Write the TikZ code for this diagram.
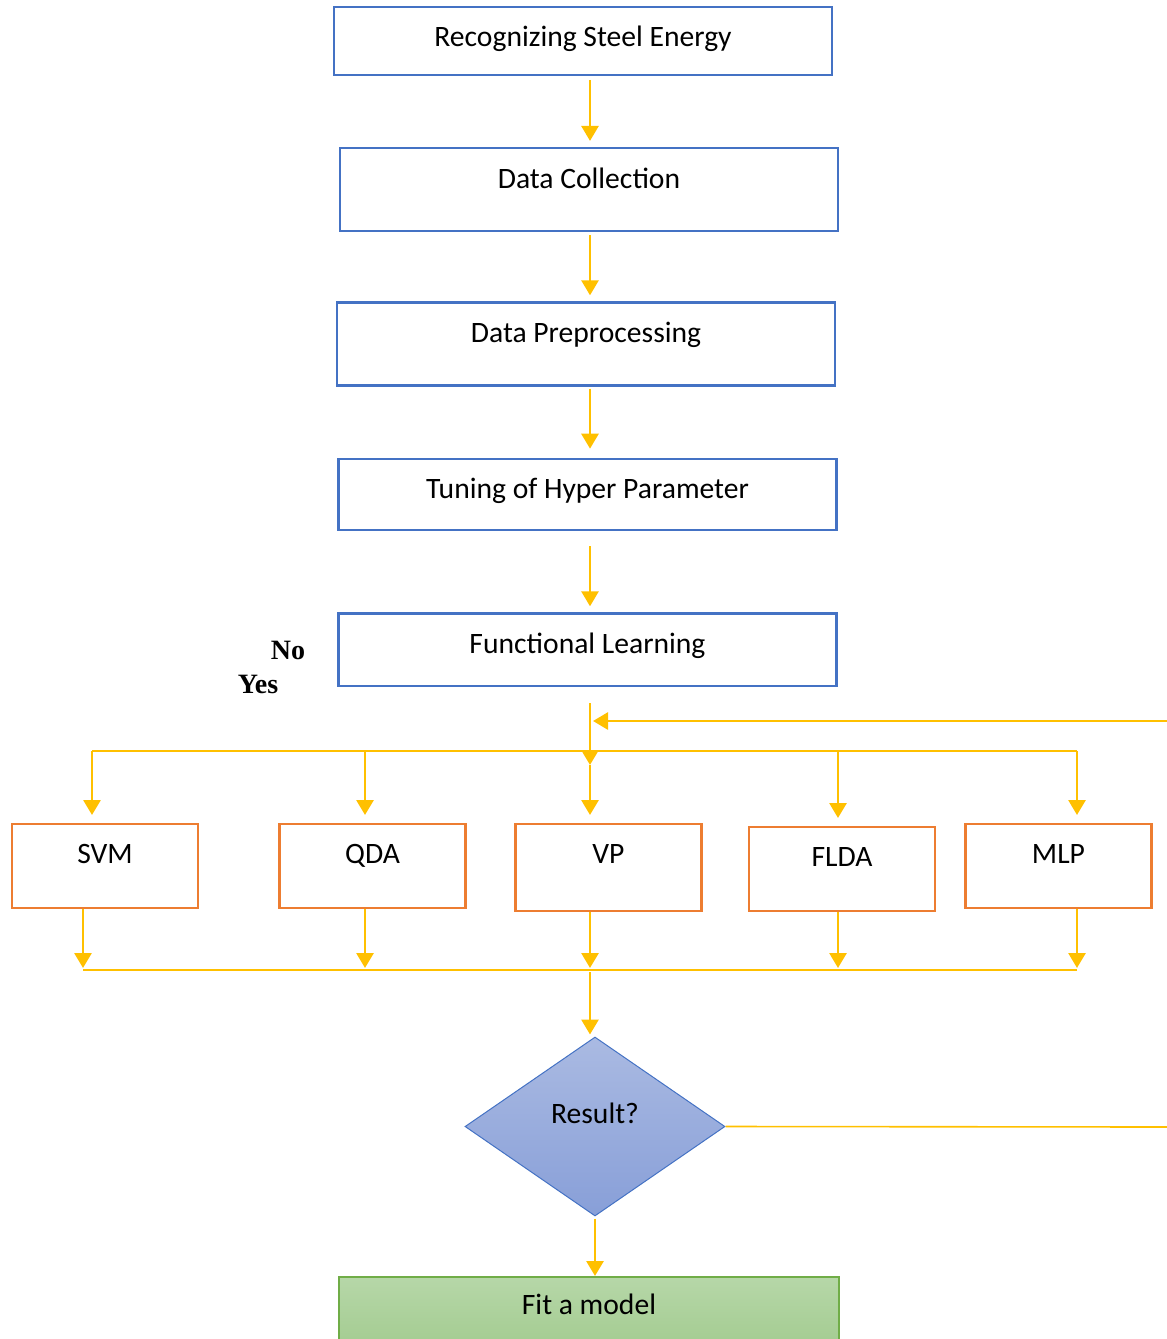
\documentclass[tikz,border=0pt]{standalone}
\usepackage{fontspec}
\setmainfont{Carlito}
\newfontfamily\answerfont{Liberation Serif}
\usetikzlibrary{arrows.meta, positioning, shapes.geometric}
\definecolor{boxblue}{HTML}{4472C4}
\definecolor{boxorange}{HTML}{ED7D31}
\definecolor{flowyellow}{HTML}{FFC000}
\definecolor{diamtop}{HTML}{AABAE2}
\definecolor{diambot}{HTML}{889FD8}
\definecolor{fittop}{HTML}{B6D7A8}
\definecolor{fitbot}{HTML}{9FC98B}
\definecolor{fitborder}{HTML}{70AD47}
\tikzset{
  boxfont/.style={font=\fontsize{14.8}{17}\selectfont},
  stepbox/.style={boxfont, draw=boxblue, line width=1.2pt, minimum width=249pt,
    inner sep=0pt, text height=20pt},
  algbox/.style={boxfont, draw=boxorange, line width=1.2pt, minimum width=93pt,
    inner sep=0pt, text height=19.7pt, text depth=22.3pt, anchor=north},
  flow/.style={->, draw=flowyellow, line width=1.4pt},
  bus/.style={draw=flowyellow, line width=0.8pt},
}

\begin{document}
\begin{tikzpicture}[x=0.5pt, y=-0.5pt, >={Triangle[width=8.5pt,length=7.5pt]}]
  \useasboundingbox (0,0) rectangle (1167,1339);
  \coordinate (spine) at (590,0);
  % main column
  \node (recog) [stepbox, text depth=14pt, anchor=north] at (583,5.5) {Recognizing Steel Energy};
  \node (collect) [stepbox, text depth=21.5pt, below=35.5pt of recog, xshift=3pt] {Data Collection};
  \node (prep) [stepbox, text depth=21.5pt, below=34.5pt of collect, xshift=-1.5pt] {Data Preprocessing};
  \node (tune) [stepbox, text depth=15.6pt, below=35.5pt of prep, xshift=0.75pt] {Tuning of Hyper Parameter};
  \node (learn) [stepbox, text depth=16.3pt, below=40.5pt of tune] {Functional Learning};
  \node (no) [font=\answerfont\bfseries\fontsize{14}{16}\selectfont] at (288,650) {No};
  \node (yes) [font=\answerfont\bfseries\fontsize{14}{16}\selectfont] at (258,684) {Yes};
  \draw[flow, shorten <=2pt, shorten >=3pt] (recog.south -| spine) -- (collect.north -| spine);
  \draw[flow, shorten <=1.5pt, shorten >=3pt] (collect.south -| spine) -- (prep.north -| spine);
  \draw[flow, shorten <=1pt, shorten >=4.5pt] (prep.south -| spine) -- (tune.north -| spine);
  \draw[flow, shorten <=7.5pt, shorten >=3pt] (tune.south -| spine) -- (learn.north -| spine);

  % classifiers
  \node (svm) [algbox] at (105,823) {SVM};
  \node (qda) [algbox] at (372.5,823) {QDA};
  \node (vp) [algbox, text depth=23.8pt] at (608.5,823) {VP};
  \node (flda) [algbox] at (842,826) {FLDA};
  \node (mlp) [algbox] at (1058.5,823) {MLP};

  \coordinate (hub) at (590,765);
  \coordinate (busL) at (92,751);
  \coordinate (busR) at (1077,751);
  \draw[bus] (busL) -- (busR);
  \draw[flow, shorten <=8pt] (learn.south -| spine) -- (hub);
  \draw[flow, shorten >=4pt] (hub) -- (hub |- vp.north);
  \foreach \x/\n in {92/svm, 365/qda, 838/flda, 1077/mlp} {
    \coordinate (d\n) at (\x,751);
    \draw[flow, shorten >=4pt] (d\n) -- (d\n |- \n.north);
  }

  % feedback from the right
  \coordinate (backIn) at (1167,721);
  \coordinate (backOut) at (1167,1127);
  \draw[flow, shorten >=1.5pt] (backIn) -- (backIn -| spine);

  % collecting bus
  \coordinate (lowL) at (83,970);
  \coordinate (lowR) at (1077,970);
  \foreach \x/\n in {83/svm, 365/qda, 590/vp, 838/flda, 1077/mlp} {
    \coordinate (u\n) at (\x,970);
    \draw[flow, shorten >=1pt] (u\n |- \n.south) -- (u\n);
  }
  \draw[bus] (lowL) -- (lowR);

  % decision
  \node (result) [diamond, draw=boxblue, line width=0.5pt, top color=diamtop, bottom color=diambot,
    minimum width=130pt, minimum height=89.5pt, inner sep=0pt, text height=6pt, text depth=8.6pt,
    boxfont] at (595,1126.5) {Result?};
  \draw[flow, shorten <=1pt, shorten >=1pt] (uvp) -- (uvp |- result.north);
  \draw[bus] (result.east) -- (backOut);

  \node (fit) [boxfont, draw=fitborder, line width=1pt, top color=fittop, bottom color=fitbot,
    minimum width=250pt, inner sep=0pt, text height=18.7pt, text depth=25pt, anchor=north]
    at (589,1276) {Fit a model};
  \draw[flow, shorten <=1pt] (result.south) -- (result.south |- fit.north);
\end{tikzpicture}
\end{document}
